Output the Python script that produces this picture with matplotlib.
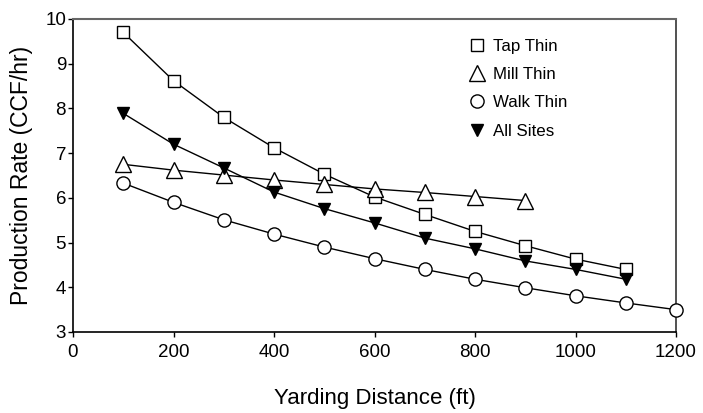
import matplotlib
matplotlib.use("Agg")
import matplotlib.pyplot as plt

plt.rcParams['font.family'] = ['Liberation Sans', 'DejaVu Sans']

tap_x = [100, 200, 300, 400, 500, 600, 700, 800, 900, 1000, 1100]
tap_y = [9.70, 8.62, 7.80, 7.12, 6.53, 6.02, 5.63, 5.25, 4.93, 4.63, 4.40]

mill_x = [100, 200, 300, 400, 500, 600, 700, 800, 900]
mill_y = [6.75, 6.62, 6.51, 6.40, 6.30, 6.20, 6.12, 6.03, 5.94]

walk_x = [100, 200, 300, 400, 500, 600, 700, 800, 900, 1000, 1100, 1200]
walk_y = [6.33, 5.90, 5.51, 5.19, 4.90, 4.64, 4.40, 4.18, 3.99, 3.81, 3.65, 3.50]

all_x = [100, 200, 300, 400, 500, 600, 700, 800, 900, 1000, 1100]
all_y = [7.89, 7.20, 6.67, 6.13, 5.76, 5.44, 5.10, 4.86, 4.59, 4.40, 4.18]

xticks = [0, 200, 400, 600, 800, 1000, 1200]
yticks = [3, 4, 5, 6, 7, 8, 9, 10]

fig = plt.figure(figsize=(7.03, 4.13), dpi=100)
ax = fig.add_axes([73/703, 1-332/413, (676-73)/703, (332-19)/413])

lw = 1.0
ax.plot(tap_x, tap_y, color='black', lw=lw, marker='s', ms=8.5, mfc='white', mec='black', mew=1.0, label='Tap Thin', zorder=3)
ax.plot(mill_x, mill_y, color='black', lw=lw, marker='^', ms=11.5, mfc='white', mec='black', mew=1.0, label='Mill Thin', zorder=3)
ax.plot(walk_x, walk_y, color='black', lw=lw, marker='o', ms=9.5, mfc='white', mec='black', mew=1.0, label='Walk Thin', zorder=3, clip_on=False)
ax.plot(all_x, all_y, color='black', lw=lw, marker='v', ms=8.5, mfc='black', mec='black', mew=1.0, label='All Sites', zorder=3)

ax.set_xlim(0, 1200)
ax.set_ylim(3, 10)
ax.set_xticks(xticks)
ax.set_yticks(yticks)
ax.tick_params(axis='both', direction='out', length=3.5, width=1, labelsize=13.5)
ax.tick_params(axis='y', pad=1.5)
ax.tick_params(axis='x', pad=5)

for s in ['left', 'bottom']:
    ax.spines[s].set_color('black')
    ax.spines[s].set_linewidth(1.2)
ax.spines['top'].set_color('#666666')
ax.spines['top'].set_linewidth(1.5)
ax.spines['right'].set_color('#333333')
ax.spines['right'].set_linewidth(1.2)

ax.set_xlabel('Yarding Distance (ft)', fontsize=16)
ax.set_ylabel('Production Rate (CCF/hr)', fontsize=16.5)
ax.xaxis.set_label_coords(0.5, (332-388)/313)
ax.yaxis.set_label_coords((33-73)/603, 0.5)

leg = ax.legend(loc='upper left', bbox_to_anchor=(0.63, 0.985), frameon=False,
                fontsize=12.2, handlelength=1.0, handletextpad=0.45, labelspacing=0.78)
for h in leg.legend_handles:
    h.set_linestyle('none')

fig.savefig('out.png', dpi=100)
